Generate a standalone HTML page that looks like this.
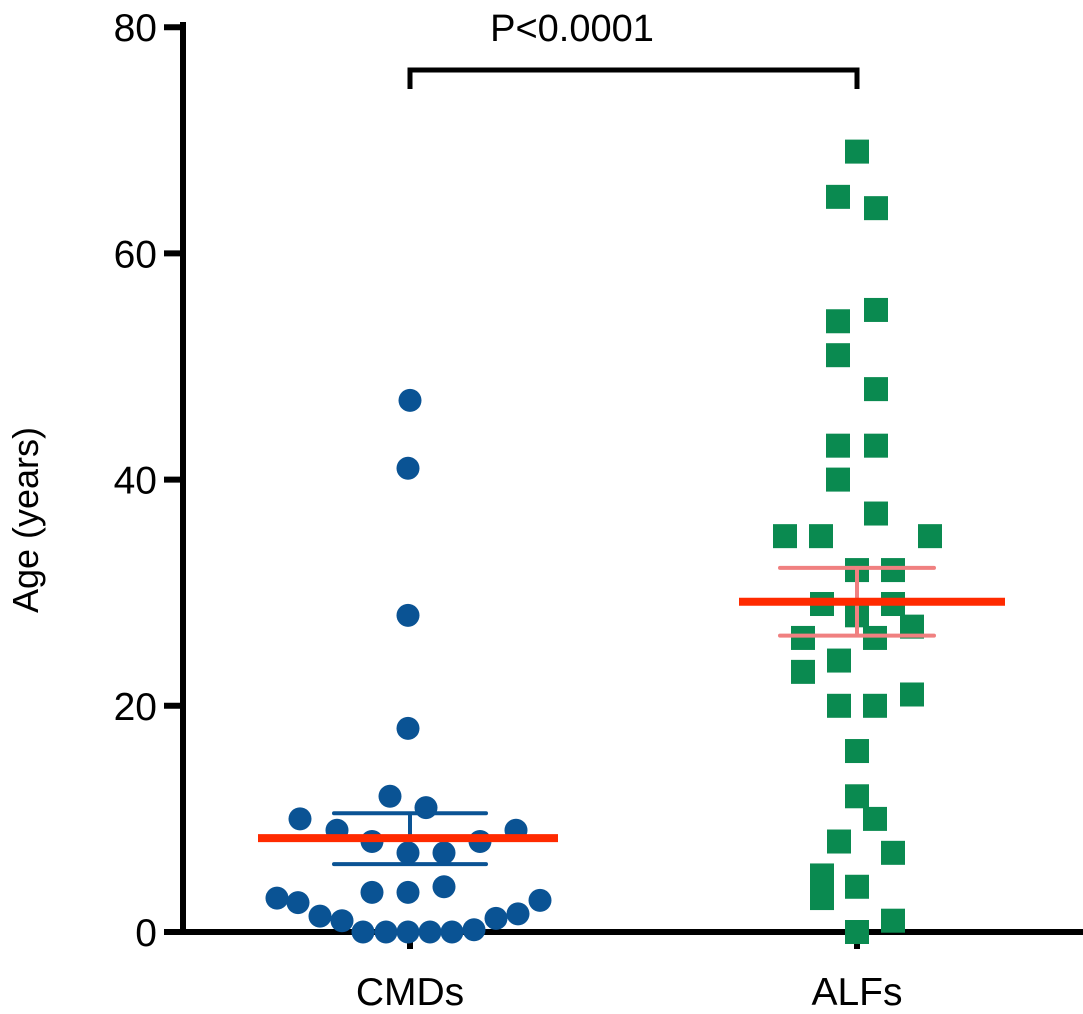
<!DOCTYPE html>
<html><head><meta charset="utf-8"><style>
html,body{margin:0;padding:0;background:#fff;}
svg{display:block;font-family:"Liberation Sans",Arial,sans-serif;}
</style></head><body>
<svg id="chart" width="1083" height="1014"></svg>
<script>
const yTicks=[0,20,40,60,80];
const categories=["CMDs","ALFs"];
const cmdValues=[47,41,28,18,12,11,10,9,9,8,8,7,7,3.5,3.5,4,3,2.6,2.8,1.4,1,1.2,1.6,0,0,0,0,0,0.2];
const cmdJitter=[0,-2,-2,-2,-20,16,-110,-73,106,-38,70,-2,34,-38,-2,34,-133,-112,130,-90,-68,86,108,-47,-24,-2,20,42,64];
const alfValues=[69,65,64,55,54,51,48,43,43,40,37,35,35,35,32,32,29,29,28,27,26,26,23,24,20,20,21,16,12,10,8,7,5,3,4,1,0];
const alfJitter=[0,-19,19,19,-19,-19,19,-19,19,-19,19,-72,-36,73,0,36,-35,36,0,55,-54,18,-54,-18,-18,18,55,0,0,18,-18,36,-35,-35,0,36,0];
const cmdMean=8.3, cmdSemHi=10.5, cmdSemLo=6;
const alfMean=29.2, alfSemHi=32.2, alfSemLo=26.2;
const pLabel="P<0.0001";

const svg=document.getElementById('chart');
const NS='http://www.w3.org/2000/svg';
const y0=932, pxPerUnit=11.31;
function yScale(v){return y0-v*pxPerUnit;}
const catX=[410,857];
function xScale(i){return catX[i];}
function mk(tag,attrs){const e=document.createElementNS(NS,tag);for(const k in attrs)e.setAttribute(k,attrs[k]);svg.appendChild(e);return e;}

let e=mk('line',{x1:183,y1:22,x2:183,y2:935,stroke:'#000','stroke-width':6});


e=mk('line',{x1:180,y1:932,x2:1083,y2:932,stroke:'#000','stroke-width':6});


yTicks.forEach(t=>{
  const y=yScale(t);
  let l=mk('line',{x1:164,y1:y,x2:183,y2:y,stroke:'#000','stroke-width':6});
  
  
  let tx=mk('text',{x:157,y:y+14,'text-anchor':'end','font-size':39});
  tx.textContent=t;
  
  
});
categories.forEach((c,i)=>{
  const x=xScale(i);
  let l=mk('line',{x1:x,y1:932,x2:x,y2:949,stroke:'#000','stroke-width':6});
  
  
  let tx=mk('text',{x:x,y:1005,'text-anchor':'middle','font-size':39});
  tx.textContent=c;
  
  
});
e=mk('text',{x:0,y:0,'text-anchor':'middle','font-size':36,transform:'translate(38,520) rotate(-90)'});
e.textContent='Age (years)';



cmdValues.forEach((v,i)=>{
  const c=mk('circle',{cx:xScale(0)+cmdJitter[i],cy:yScale(v),r:11.5,fill:'#0a5394'});
  
  
});
alfValues.forEach((v,i)=>{
  const r=mk('rect',{x:xScale(1)+alfJitter[i]-12,y:yScale(v)-12,width:24,height:24,fill:'#0a8a50'});
  
  
});

function sem(i,hi,lo,half,color,w){
  const x=xScale(i);
  let a=mk('line',{x1:x-half,y1:yScale(hi),x2:x+half,y2:yScale(hi),stroke:color,'stroke-width':w,'stroke-linecap':'round'});
  
  
  let b=mk('line',{x1:x-half,y1:yScale(lo),x2:x+half,y2:yScale(lo),stroke:color,'stroke-width':w,'stroke-linecap':'round'});
  
  
  let c=mk('line',{x1:x,y1:yScale(hi),x2:x,y2:yScale(lo),stroke:color,'stroke-width':w});
  
  
}
sem(0,cmdSemHi,cmdSemLo,76,'#0a5394',4);
sem(1,alfSemHi,alfSemLo,77,'#f08080',4);
e=mk('line',{x1:xScale(0)-152,y1:yScale(cmdMean),x2:xScale(0)+148,y2:yScale(cmdMean),stroke:'#ff2a00','stroke-width':8});


e=mk('line',{x1:xScale(1)-118,y1:yScale(alfMean),x2:xScale(1)+148,y2:yScale(alfMean),stroke:'#ff2a00','stroke-width':8});



e=mk('path',{d:`M${xScale(0)},89 V70 H${xScale(1)} V89`,fill:'none',stroke:'#000','stroke-width':5});


e=mk('text',{x:572,y:41,'text-anchor':'middle','font-size':38});
e.textContent=pLabel;


</script>
</body></html>
